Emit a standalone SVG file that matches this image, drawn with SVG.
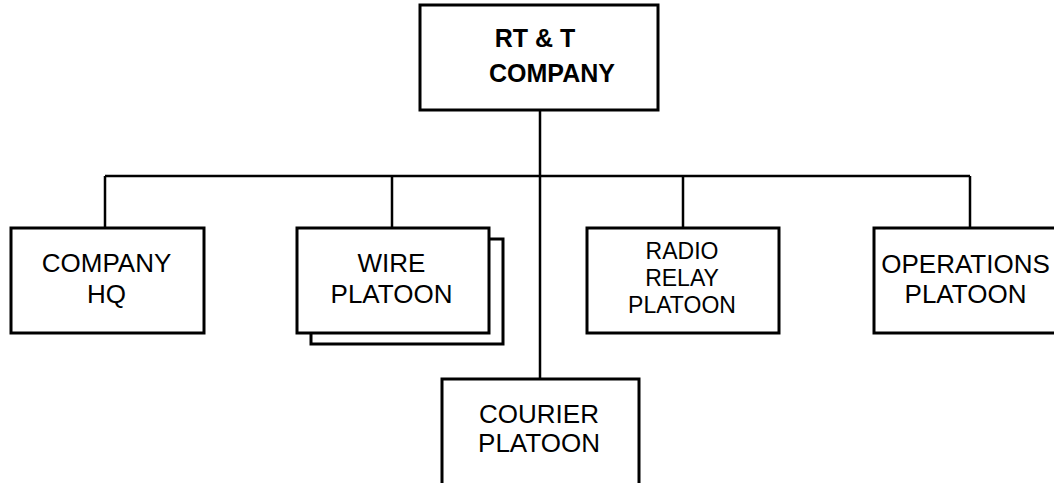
<svg xmlns="http://www.w3.org/2000/svg" width="1054" height="483" viewBox="0 0 1054 483">
<style>
.box{fill:#fff;stroke:#000;stroke-width:3}
.ln{fill:none;stroke:#000;stroke-width:2.5}
text{font-family:"Liberation Sans",Arial,sans-serif;font-size:26px;fill:#000;text-anchor:middle}
.b{font-weight:bold;font-size:25px}
.s{font-size:23px}
</style>
<rect width="1054" height="483" fill="#fff"/>
<g id="connectors">
<path class="ln" d="M540 110V379M105 176H970M105 176V228M392 176V228M683 176V228M970 176V228"/>
</g>
<g id="rtt">
<rect class="box" x="420" y="5" width="238" height="105"/>
<text class="b" x="535" y="47">RT &amp; T</text>
<text class="b" x="552" y="82">COMPANY</text>
</g>
<g id="hq">
<rect class="box" x="11" y="228" width="193" height="105"/>
<text x="106.5" y="272">COMPANY</text>
<text x="106.5" y="303">HQ</text>
</g>
<g id="wire">
<polyline class="ln" style="stroke-width:3" points="311,333 311,344 503,344 503,239 489,239"/>
<rect class="box" x="297" y="228" width="192" height="105"/>
<text x="391.5" y="272">WIRE</text>
<text x="391.5" y="303">PLATOON</text>
</g>
<g id="radio">
<rect class="box" x="587" y="228" width="192" height="105"/>
<text class="s" x="682" y="259">RADIO</text>
<text class="s" x="682" y="286">RELAY</text>
<text class="s" x="682" y="313">PLATOON</text>
</g>
<g id="ops">
<rect class="box" x="874" y="228" width="200" height="105"/>
<text x="965.5" y="273">OPERATIONS</text>
<text x="965.5" y="303">PLATOON</text>
</g>
<g id="courier">
<rect class="box" x="442" y="379" width="197" height="120"/>
<text x="539" y="423">COURIER</text>
<text x="539" y="452">PLATOON</text>
</g>
</svg>
